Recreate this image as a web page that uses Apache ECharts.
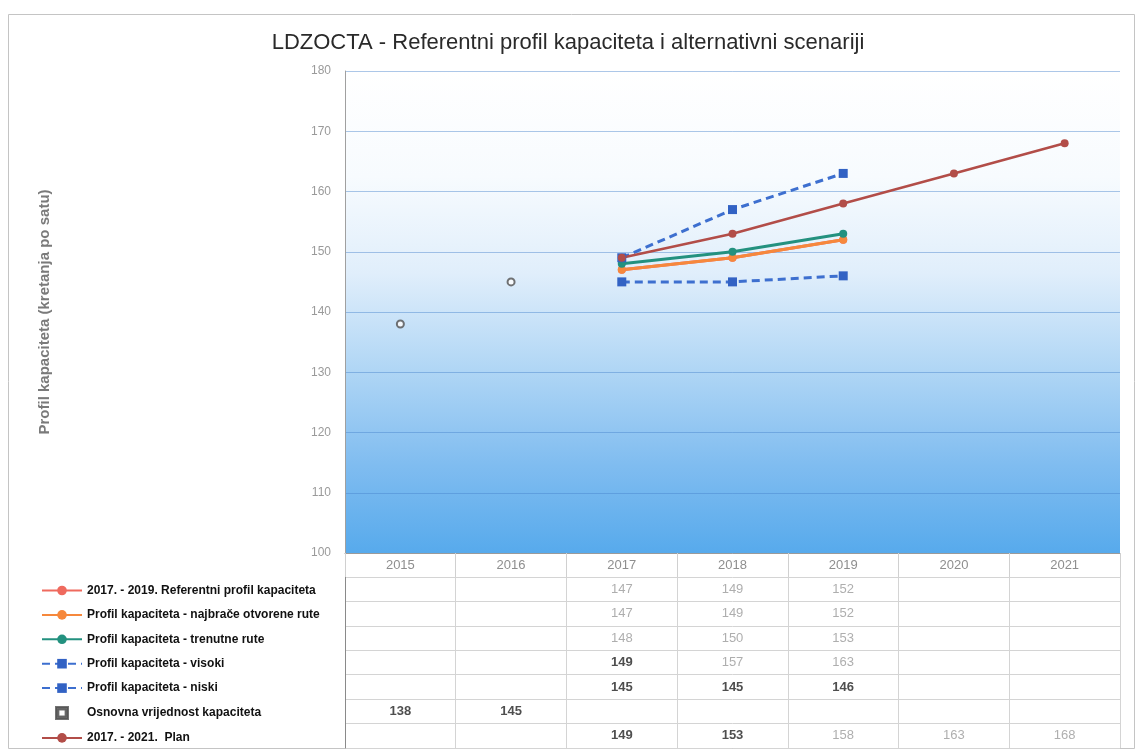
<!DOCTYPE html>
<html><head><meta charset="utf-8">
<script src="https://cdn.jsdelivr.net/npm/echarts@6/dist/echarts.min.js"></script>
<style>html,body{margin:0;padding:0;background:#fff}#c{width:1136px;height:750px}</style>
</head><body><div id="c"></div>
<script>
// ---- data ----
const years = ['2015', '2016', '2017', '2018', '2019', '2020', '2021'];
const referentni = [null, null, 147, 149, 152, null, null];
const najbrze = [null, null, 147, 149, 152, null, null];
const trenutne = [null, null, 148, 150, 153, null, null];
const visoki = [null, null, 149, 157, 163, null, null];
const niski = [null, null, 145, 145, 146, null, null];
const osnovna = [138, 145, null, null, null, null, null];
const plan = [null, null, 149, 153, 158, 163, 168];
const seriesNames = [
  '2017. - 2019. Referentni profil kapaciteta',
  'Profil kapaciteta - najbrače otvorene rute',
  'Profil kapaciteta - trenutne rute',
  'Profil kapaciteta - visoki',
  'Profil kapaciteta - niski',
  'Osnovna vrijednost kapaciteta',
  '2017. - 2021.  Plan'
];
const yMin = 100, yMax = 180, yStep = 10;
const titleText = 'LDZOCTA - Referentni profil kapaciteta i alternativni scenariji';
const yName = 'Profil kapaciteta (kretanja po satu)';

// ---- styling (not data) ----
const FONT = '"Liberation Sans", Arial, sans-serif';
const darkCells = new Set(['3,2', '4,2', '4,3', '4,4', '5,0', '5,1', '6,2', '6,3']);
const rows = [referentni, najbrze, trenutne, visoki, niski, osnovna, plan];

const tableData = [];
rows.forEach((arr, r) => arr.forEach((v, c) => {
  if (v !== null) {
    const dark = darkCells.has(r + ',' + c);
    tableData.push({
      value: [c, r, v],
      label: { color: dark ? '#222' : '#9a9a9a', fontWeight: dark ? 'bold' : 'normal' }
    });
  }
}));

const chart = echarts.init(document.getElementById('c'));
const lineBase = (name, data, color, opts) => Object.assign({
  name, type: 'line', data, xAxisIndex: 0, yAxisIndex: 0,
  symbol: 'circle', symbolSize: 8, connectNulls: false,
  itemStyle: { color },
  lineStyle: { color, width: 3 },
  emphasis: { disabled: true }
}, opts || {});

const legendData = seriesNames.map((n, i) => i === 5
  ? { name: n, icon: 'path://M0,0H10V10H0Z M2,2V8H8V2Z', itemStyle: { color: '#505050' } }
  : { name: n });

chart.setOption({
  animation: false,
  backgroundColor: '#ffffff',
  title: {
    text: titleText, left: 'center', top: 27,
    textStyle: { fontFamily: FONT, fontSize: 22, fontWeight: 'normal', color: '#2a2a2a' }
  },
  graphic: [{
    type: 'rect', silent: true, z: -10,
    shape: { x: 8.5, y: 14.5, width: 1126, height: 734 },
    style: { fill: 'none', stroke: '#c4c4c4', lineWidth: 1 }
  }],
  legend: {
    orient: 'vertical', left: 36, top: 579, height: 200,
    itemWidth: 40, itemHeight: 12, itemGap: 11.4,
    selectedMode: false,
    data: legendData,
    textStyle: { fontFamily: FONT, fontSize: 12, fontWeight: 'bold', color: '#111', lineHeight: 13 }
  },
  grid: [
    { left: 345, right: 16, top: 71, bottom: 197, show: true, borderWidth: 0,
      backgroundColor: new echarts.graphic.LinearGradient(0, 0, 0, 1, [
        { offset: 0, color: '#ffffff' },
        { offset: 0.22, color: '#f7fbfe' },
        { offset: 0.42, color: '#e0eefb' },
        { offset: 0.62, color: '#b0d6f5' },
        { offset: 0.82, color: '#7fbcf0' },
        { offset: 1, color: '#57aaec' }
      ]) },
    { left: 345, right: 16, top: 577, bottom: 2 }
  ],
  xAxis: [
    { type: 'category', gridIndex: 0, data: years, boundaryGap: true,
      axisLine: { show: true, lineStyle: { color: '#9a9a9a' } },
      axisTick: { show: true, length: 24, interval: 0, lineStyle: { color: '#d0d0d0' } },
      axisLabel: { color: '#8e8e8e', fontFamily: FONT, fontSize: 13, margin: 6 } },
    { type: 'category', gridIndex: 1, data: years, boundaryGap: true,
      axisLine: { show: false }, axisTick: { show: false }, axisLabel: { show: false },
      splitLine: { show: true, interval: 0, lineStyle: { color: '#d4d4d4' } } }
  ],
  yAxis: [
    { type: 'value', gridIndex: 0, min: yMin, max: yMax, interval: yStep,
      name: yName, nameLocation: 'middle', nameGap: 293, nameRotate: 90,
      nameTextStyle: { color: '#7a7a7a', fontFamily: FONT, fontSize: 15, fontWeight: 'bold' },
      axisLine: { show: true, lineStyle: { color: '#a0a0a0' } },
      axisTick: { show: false },
      axisLabel: { color: '#9a9a9a', fontFamily: FONT, fontSize: 12, margin: 14 },
      splitLine: { show: true, lineStyle: { color: 'rgba(70,130,205,0.45)', width: 1 } } },
    { type: 'category', gridIndex: 1, data: seriesNames, inverse: true, boundaryGap: true,
      axisLine: { show: true, lineStyle: { color: '#8a8a8a' } },
      axisTick: { show: false }, axisLabel: { show: false },
      splitLine: { show: true, interval: 0, lineStyle: { color: '#d4d4d4' } } }
  ],
  series: [
    lineBase(seriesNames[0], referentni, '#ef6a5e'),
    lineBase(seriesNames[1], najbrze, '#f6883c'),
    lineBase(seriesNames[2], trenutne, '#23917f'),
    lineBase(seriesNames[3], visoki, '#3262c4', { symbol: 'rect', symbolSize: 9,
      lineStyle: { color: '#3d6fcf', width: 3, type: [8, 5] } }),
    lineBase(seriesNames[4], niski, '#3262c4', { symbol: 'rect', symbolSize: 9,
      lineStyle: { color: '#3d6fcf', width: 3, type: [8, 5] } }),
    { name: seriesNames[5], type: 'scatter', data: osnovna, xAxisIndex: 0, yAxisIndex: 0,
      symbol: 'emptyCircle', symbolSize: 7,
      itemStyle: { color: '#505050', borderColor: '#505050', borderWidth: 2 } },
    lineBase(seriesNames[6], plan, '#b24d48', { lineStyle: { color: '#b24d48', width: 2.5 } }),
    { name: 'table', type: 'scatter', xAxisIndex: 1, yAxisIndex: 1, data: tableData,
      symbolSize: 1, itemStyle: { color: 'rgba(0,0,0,0)' }, silent: true,
      label: { show: true, position: 'inside', formatter: p => p.value[2],
        fontFamily: FONT, fontSize: 13 } }
  ]
});
</script>
</body></html>
